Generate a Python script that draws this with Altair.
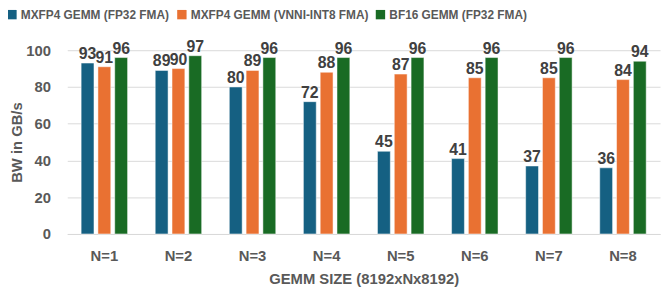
import altair as alt
import pandas as pd

categories = ["N=1", "N=2", "N=3", "N=4", "N=5", "N=6", "N=7", "N=8"]
series = ["MXFP4 GEMM (FP32 FMA)", "MXFP4 GEMM (VNNI-INT8 FMA)", "BF16 GEMM (FP32 FMA)"]
mxfp4_fp32 = [93, 89, 80, 72, 45, 41, 37, 36]
mxfp4_vnni = [91, 90, 89, 88, 87, 85, 85, 84]
bf16_fp32 = [96, 97, 96, 96, 96, 96, 96, 94]
y_ticks = [0, 20, 40, 60, 80, 100]
colors = ["#156082", "#E97132", "#196B24"]

rows = []
for i, c in enumerate(categories):
    for s, vals in zip(series, [mxfp4_fp32, mxfp4_vnni, bf16_fp32]):
        rows.append({"N": c, "series": s, "value": vals[i]})
df = pd.DataFrame(rows)

FONT = "Liberation Sans"
GRAY = "#595959"

x = alt.X("N:N", sort=categories,
          scale=alt.Scale(paddingInner=0.373, paddingOuter=0.187),
          axis=alt.Axis(title="GEMM SIZE (8192xNx8192)", labelAngle=0, ticks=False,
                        labelPadding=15, titlePadding=8, domainColor="#d9d9d9",
                        labelFont=FONT, titleFont=FONT, labelFontSize=15, titleFontSize=15,
                        labelFontWeight="bold", titleFontWeight="bold",
                        labelColor=GRAY, titleColor=GRAY))
xo = alt.XOffset("series:N", sort=series, scale=alt.Scale(paddingInner=0.235, paddingOuter=0))
y = alt.Y("value:Q", scale=alt.Scale(domain=[0, 100], nice=False),
          axis=alt.Axis(title="BW in GB/s", values=y_ticks, ticks=False,
                        domain=False, labelPadding=17, titlePadding=1, gridColor="#d9d9d9",
                        labelOverlap=False, labelFlush=False, labelBound=False,
                        labelFont=FONT, titleFont=FONT, labelFontSize=15, titleFontSize=15,
                        labelFontWeight="bold", titleFontWeight="bold",
                        labelColor=GRAY, titleColor=GRAY))

bars = alt.Chart(df).mark_bar(stroke="white", strokeWidth=0.5).encode(
    x=x, xOffset=xo, y=y,
    color=alt.Color("series:N", sort=series, scale=alt.Scale(domain=series, range=colors),
                    legend=alt.Legend(title=None, orient="none", direction="horizontal",
                                      legendX=-62, legendY=-42, symbolType="square",
                                      symbolSize=90, symbolStrokeWidth=0, columnPadding=6,
                                      labelLimit=400, labelOffset=3,
                                      labelFont=FONT, labelFontSize=12, labelFontWeight="bold",
                                      labelColor=GRAY, symbolOpacity=1)),
)
labels = alt.Chart(df).mark_text(baseline="bottom", dy=-1, font=FONT, fontSize=16,
                                 fontWeight="bold", color="#404040").encode(
    x=x, xOffset=xo, y=y, text="value:Q")

chart = (bars + labels).properties(
    width=600, height=186,
    autosize=alt.AutoSizeParams(type="none"),
    padding={"left": 60, "top": 41, "right": 4, "bottom": 55},
).configure_view(stroke=None)

chart.save("out.html", embed_options={"renderer": "svg", "actions": False})
